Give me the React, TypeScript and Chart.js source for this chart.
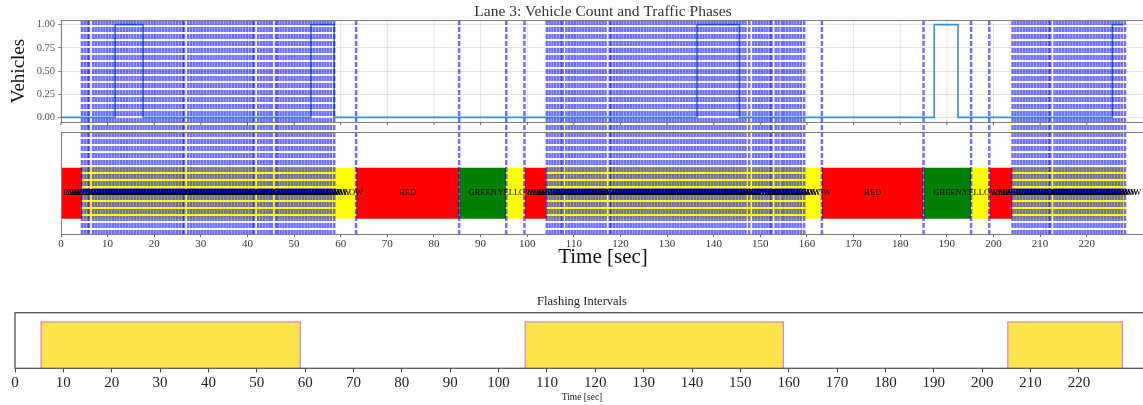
import React, { useEffect, useRef } from 'react';
import { Chart, registerables } from 'chart.js';

Chart.register(...registerables);

const FONT = '"Liberation Serif", "Times New Roman", serif';

// ---- Vehicle count (step changes) ----
const vehicleTimes = [0, 11.6, 17.6, 53.6, 58.6, 136.4, 145.5, 187.3, 192.4, 225.5, 227.9];
const vehicleCounts = [0, 1, 0, 1, 0, 1, 0, 1, 0, 1, 1];
const vehicleTicks = [0, 0.25, 0.5, 0.75, 1];
const timeTicks = [0, 10, 20, 30, 40, 50, 60, 70, 80, 90, 100, 110, 120, 130, 140, 150, 160, 170, 180, 190, 200, 210, 220];

// ---- Main (non-flashing) traffic phases ----
const phaseStarts = [0, 58.6, 63.3, 85.4, 95.5, 99.4, 147.6, 159.4, 163.2, 185.0, 195.2, 199.1];
const phaseNames = ['RED', 'YELLOW', 'RED', 'GREEN', 'YELLOW', 'RED', 'YELLOW', 'YELLOW', 'RED', 'GREEN', 'YELLOW', 'RED'];
const phaseEnd = 228.2;

// ---- Flashing-yellow phase changes ----
const flashTimes1 = [4.5, 5.1, 5.7, 6.0, 6.9, 7.5, 8.1, 8.7, 9.3, 9.9, 10.5, 11.1, 11.7, 12.3, 12.9, 13.5, 14.1, 14.7, 15.3, 15.9, 16.5, 17.1, 17.7, 18.3, 18.9, 19.5, 20.1, 20.7, 21.3, 21.9, 22.5, 23.1, 23.7, 24.3, 24.9, 25.5, 26.1, 26.4, 27.3, 27.9, 28.5, 29.1, 29.7, 30.3, 30.9, 31.5, 32.1, 32.7, 33.3, 33.9, 34.5, 35.1, 35.7, 36.3, 36.9, 37.5, 38.1, 38.7, 39.3, 39.9, 40.5, 41.1, 41.4, 42.3, 42.9, 43.5, 44.1, 44.7, 45.2, 46.1, 46.5, 47.1, 47.7, 48.3, 48.9, 49.5, 50.1, 50.7, 51.3, 51.9, 52.5, 53.1, 53.7, 54.3, 54.9, 55.5, 56.1, 56.7, 57.3, 57.9];
const flashTimes2 = [104.2, 104.8, 105.4, 106.0, 106.6, 107.2, 107.6, 108.4, 109.0, 109.6, 110.2, 110.8, 111.4, 112.0, 112.6, 113.2, 113.8, 114.4, 115.0, 115.6, 116.2, 116.8, 117.7, 118.0, 118.6, 119.2, 119.8, 120.4, 121.0, 121.6, 122.2, 122.8, 123.4, 124.0, 124.6, 125.2, 125.8, 126.4, 127.0, 127.6, 128.2, 128.8, 129.4, 130.0, 130.6, 131.2, 131.8, 132.4, 133.0, 133.6, 134.2, 134.8, 135.4, 136.0, 136.6, 137.2, 137.8, 138.4, 139.0, 139.6, 140.2, 140.8, 141.4, 142.0, 142.6, 143.2, 143.8, 144.4, 145.0, 145.6, 146.2, 146.8];
const flashTimes3 = [148.5, 149.1, 149.7, 150.3, 150.9, 151.5, 152.1, 152.4, 153.3, 153.9, 154.6, 155.1, 155.7, 156.3, 156.9, 157.5, 158.1, 158.7];
const flashTimes4 = [204.1, 204.7, 205.3, 205.9, 206.5, 207.1, 207.7, 208.3, 208.9, 209.5, 210.1, 210.7, 211.3, 211.9, 212.2, 213.1, 213.7, 214.3, 214.9, 215.5, 216.1, 216.7, 217.3, 217.9, 218.5, 219.1, 219.7, 220.3, 220.9, 221.5, 222.1, 222.7, 223.3, 223.9, 224.5, 225.1, 225.7, 226.3, 226.9, 227.5];
const flashName = 'YELLOW';

// ---- Flashing intervals (bottom panel) ----
const flashIntervalStarts = [5.4, 105.5, 205.3];
const flashIntervalEnds = [59.0, 158.9, 229.0];

const phaseColors: Record<string, string> = { RED: '#ff0000', YELLOW: '#ffff00', GREEN: '#008000' };

type Seg = { start: number; end: number; name: string };

function buildSegments(): Seg[] {
  const pts = [
    ...phaseStarts.map((t, i) => ({ t, name: phaseNames[i] })),
    ...[...flashTimes1, ...flashTimes2, ...flashTimes3, ...flashTimes4].map((t) => ({ t, name: flashName })),
  ].sort((a, b) => a.t - b.t);
  return pts.map((p, i) => ({ start: p.t, end: i < pts.length - 1 ? pts[i + 1].t : phaseEnd, name: p.name }));
}

export default function App() {
  const refA = useRef<HTMLCanvasElement>(null);
  const refB = useRef<HTMLCanvasElement>(null);

  useEffect(() => {
    Chart.defaults.font.family = FONT;
    const segments = buildSegments();
    const boundaries = [...segments.filter((s) => s.start > 0).map((s) => s.start), phaseEnd];
    const BAND_TOP = 0.65;
    const BAND_BOTTOM = 0.15;
    const LABEL_Y = 0.4;

    const phaseDatasets = segments.map((s) => ({
      type: 'line' as const,
      yAxisID: 'yPh',
      data: [
        { x: s.start, y: BAND_TOP },
        { x: s.end, y: BAND_TOP },
      ],
      borderWidth: 0,
      pointRadius: 0,
      backgroundColor: phaseColors[s.name],
      fill: { value: BAND_BOTTOM },
    }));

    const panelPlugin = {
      id: 'panelPlugin',
      beforeDatasetsDraw(chart: any) {
        const { ctx } = chart;
        const x = chart.scales.x;
        const yV = chart.scales.yVeh;
        ctx.save();
        ctx.strokeStyle = 'rgba(176,176,176,0.45)';
        ctx.lineWidth = 0.8;
        for (const t of timeTicks) {
          const px = x.getPixelForValue(t);
          ctx.beginPath();
          ctx.moveTo(px, yV.top);
          ctx.lineTo(px, yV.bottom);
          ctx.stroke();
        }
        ctx.restore();
      },
      afterDatasetsDraw(chart: any) {
        const { ctx } = chart;
        const x = chart.scales.x;
        const yV = chart.scales.yVeh;
        const yP = chart.scales.yPh;
        ctx.save();
        // phase labels
        ctx.font = '8.5px ' + FONT;
        ctx.fillStyle = '#000';
        ctx.textAlign = 'center';
        ctx.textBaseline = 'middle';
        const ly = yP.getPixelForValue(LABEL_Y);
        for (const s of segments) {
          ctx.fillText(s.name, x.getPixelForValue((s.start + s.end) / 2), ly);
        }
        // phase change lines
        ctx.strokeStyle = 'rgba(0,0,255,0.56)';
        ctx.lineWidth = 2.5;
        ctx.setLineDash([5, 2]);
        for (const t of boundaries) {
          const px = x.getPixelForValue(t);
          ctx.beginPath();
          ctx.moveTo(px, yV.top);
          ctx.lineTo(px, yP.bottom);
          ctx.stroke();
        }
        ctx.setLineDash([]);
        // frames
        ctx.strokeStyle = '#7d7d7d';
        ctx.lineWidth = 1;
        const l = Math.round(x.left) + 0.5;
        const r = Math.round(x.right) + 0.5;
        ctx.strokeRect(l, Math.round(yV.top) + 0.5, r - l, Math.round(yV.bottom) - Math.round(yV.top));
        ctx.strokeRect(l, Math.round(yP.top) + 0.5, r - l, Math.round(yP.bottom) - Math.round(yP.top));
        // x tick marks under the top panel
        ctx.strokeStyle = '#666';
        for (const t of timeTicks) {
          const px = x.getPixelForValue(t);
          ctx.beginPath();
          ctx.moveTo(px, yV.bottom);
          ctx.lineTo(px, yV.bottom + 3);
          ctx.stroke();
        }
        ctx.restore();
      },
    };

    const chartA = new Chart(refA.current as HTMLCanvasElement, {
      type: 'line',
      data: {
        datasets: [
          {
            type: 'line',
            yAxisID: 'yVeh',
            data: vehicleTimes.map((t, i) => ({ x: t, y: vehicleCounts[i] })),
            stepped: true,
            borderColor: '#3a8ed2',
            borderWidth: 1.6,
            pointRadius: 0,
            fill: false,
          },
          ...phaseDatasets,
        ] as any,
      },
      options: {
        responsive: false,
        animation: false,
        devicePixelRatio: 1,
        layout: { padding: { left: 0, right: 5, top: 0, bottom: 0 } },
        plugins: {
          legend: { display: false },
          tooltip: { enabled: false },
          title: {
            display: true,
            text: 'Lane 3: Vehicle Count and Traffic Phases',
            color: '#333',
            font: { family: FONT, size: 15.5, weight: 'normal', lineHeight: 1 },
            padding: { top: 4.5, bottom: 0 },
            fullSize: false,
          },
        },
        scales: {
          x: {
            type: 'linear',
            min: 0,
            max: 232.5,
            afterBuildTicks: (s: any) => {
              s.ticks = timeTicks.map((v) => ({ value: v }));
            },
            ticks: { autoSkip: false, maxRotation: 0, padding: 1, color: '#333', font: { family: FONT, size: 11 } },
            grid: { drawOnChartArea: false, drawTicks: true, tickLength: 3, tickColor: '#666' },
            border: { display: false },
            title: { display: true, text: 'Time [sec]', color: '#111', font: { family: FONT, size: 21 }, padding: 0 },
            afterFit: (s: any) => {
              s.height = 36;
            },
          },
          yVeh: {
            type: 'linear',
            position: 'left',
            stack: 'v',
            stackWeight: 102,
            weight: 3,
            min: -0.05,
            max: 1.05,
            afterBuildTicks: (s: any) => {
              s.ticks = vehicleTicks.map((v) => ({ value: v }));
            },
            ticks: {
              padding: 3,
              color: '#555',
              font: { family: FONT, size: 10.5 },
              callback: (v: any) => Number(v).toFixed(2),
            },
            grid: { color: 'rgba(176,176,176,0.45)', lineWidth: 0.8, tickLength: 3, tickColor: '#666' },
            border: { display: false },
            title: { display: true, text: 'Vehicles', color: '#111', font: { family: FONT, size: 19 }, padding: { top: 7.5, bottom: 0 } },
            afterFit: (s: any) => {
              s.width = 61;
            },
          },
          yGap: {
            type: 'linear',
            position: 'left',
            stack: 'v',
            stackWeight: 10,
            weight: 2,
            ticks: { display: false },
            grid: { display: false },
            border: { display: false },
            afterFit: (s: any) => {
              s.width = 61;
            },
          },
          yPh: {
            type: 'linear',
            position: 'left',
            stack: 'v',
            stackWeight: 102,
            weight: 1,
            min: 0,
            max: 1,
            ticks: { display: false },
            grid: { display: false },
            border: { display: false },
            afterFit: (s: any) => {
              s.width = 61;
            },
          },
        },
      } as any,
      plugins: [panelPlugin],
    });

    const flashDatasets = flashIntervalStarts.map((s, i) => ({
      type: 'line' as const,
      data: [
        { x: s, y: 0 },
        { x: s, y: 1 },
        { x: flashIntervalEnds[i], y: 1 },
        { x: flashIntervalEnds[i], y: 0 },
      ],
      borderColor: 'rgba(208,120,205,0.85)',
      borderWidth: 1.3,
      backgroundColor: 'rgba(255,215,0,0.7)',
      pointRadius: 0,
      fill: { value: 0 },
    }));

    const frameB = {
      id: 'frameB',
      afterDatasetsDraw(chart: any) {
        const { ctx, chartArea } = chart;
        ctx.save();
        ctx.strokeStyle = '#555';
        ctx.lineWidth = 1.3;
        ctx.strokeRect(chartArea.left, chartArea.top, chartArea.right - chartArea.left, chartArea.bottom - chartArea.top);
        ctx.restore();
      },
    };

    const chartB = new Chart(refB.current as HTMLCanvasElement, {
      type: 'line',
      data: { datasets: flashDatasets as any },
      options: {
        responsive: false,
        animation: false,
        devicePixelRatio: 1,
        layout: { padding: { left: 15, right: 3, top: 0, bottom: 0 } },
        plugins: {
          legend: { display: false },
          tooltip: { enabled: false },
          title: {
            display: true,
            text: 'Flashing Intervals',
            color: '#222',
            font: { family: FONT, size: 12.5, weight: 'normal', lineHeight: 1.2 },
            padding: { top: 9, bottom: 3.7 },
            fullSize: false,
          },
        },
        scales: {
          x: {
            type: 'linear',
            min: 0,
            max: 234.5,
            afterBuildTicks: (s: any) => {
              s.ticks = timeTicks.map((v) => ({ value: v }));
            },
            ticks: { autoSkip: false, maxRotation: 0, padding: 2, color: '#222', font: { family: FONT, size: 15 } },
            grid: { drawOnChartArea: false, drawTicks: true, tickLength: 4, tickColor: '#444' },
            border: { display: false },
            title: { display: true, text: 'Time [sec]', color: '#222', font: { family: FONT, size: 9.5 }, padding: 0 },
            afterFit: (s: any) => {
              s.height = 34.7;
            },
          },
          y: { display: false, min: 0, max: 1.2 },
        },
      } as any,
      plugins: [frameB],
    });

    return () => {
      chartA.destroy();
      chartB.destroy();
    };
  }, []);

  return (
    <div style={{ position: 'absolute', left: 0, top: 0, width: 1143, height: 405, overflow: 'hidden', background: '#fff' }}>
      <canvas ref={refA} width={1150} height={270} style={{ position: 'absolute', left: 0, top: 0, width: 1150, height: 270 }} />
      <canvas ref={refB} width={1152} height={118} style={{ position: 'absolute', left: 0, top: 285, width: 1152, height: 118 }} />
    </div>
  );
}
